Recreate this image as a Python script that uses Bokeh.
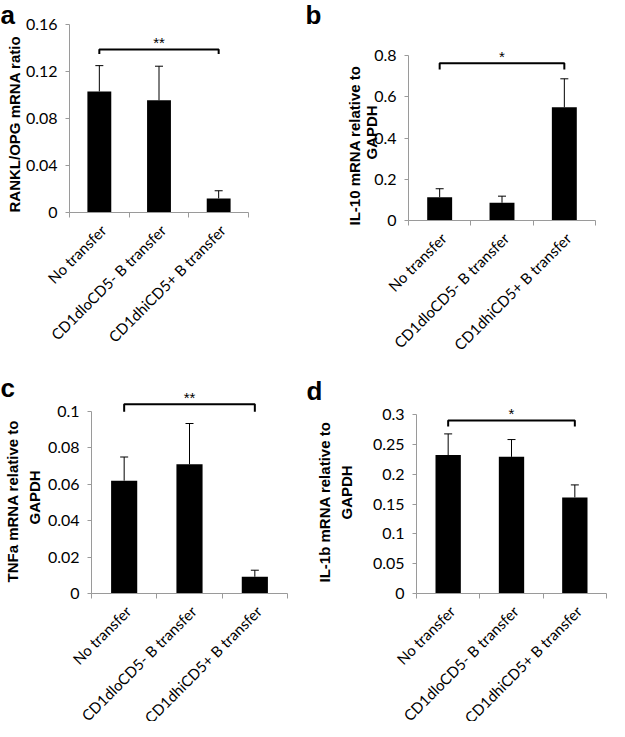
from math import pi
from bokeh.plotting import figure
from bokeh.layouts import column, row
from bokeh.models import (Range1d, FixedTicker, Whisker, TeeHead,
                          ColumnDataSource, LinearAxis)
from bokeh.core.properties import value
from bokeh.embed import file_html
from bokeh.resources import INLINE

# ---------------- data ----------------
categories = ["No transfer", "CD1dloCD5- B transfer", "CD1dhiCD5+ B transfer"]

rankl_opg = [0.103, 0.0955, 0.012]
rankl_opg_err = [0.022, 0.029, 0.0065]

il10 = [0.113, 0.086, 0.549]
il10_err = [0.041, 0.032, 0.138]

tnfa = [0.062, 0.071, 0.0092]
tnfa_err = [0.013, 0.0224, 0.0036]

il1b = [0.232, 0.229, 0.161]
il1b_err = [0.0355, 0.029, 0.021]

ticks_a = [0, 0.04, 0.08, 0.12, 0.16]
tick_labels_a = ["0", "0.04", "0.08", "0.12", "0.16"]
ticks_b = [0, 0.2, 0.4, 0.6, 0.8]
tick_labels_b = ["0", "0.2", "0.4", "0.6", "0.8"]
ticks_c = [0, 0.02, 0.04, 0.06, 0.08, 0.1]
tick_labels_c = ["0", "0.02", "0.04", "0.06", "0.08", "0.1"]
ticks_d = [0, 0.05, 0.1, 0.15, 0.2, 0.25, 0.3]
tick_labels_d = ["0", "0.05", "0.1", "0.15", "0.2", "0.25", "0.3"]

ylabel_a = ["RANKL/OPG mRNA ratio"]
ylabel_b = ["IL-10 mRNA relative to", "GAPDH"]
ylabel_c = ["TNFa mRNA relative to", "GAPDH"]
ylabel_d = ["IL-1b mRNA relative to", "GAPDH"]

# significance brackets: (bracket level, drop level, label)
sig_a = (0.1388, 0.135, "**")
sig_b = (0.763, 0.732, "*")
sig_c = (0.104, 0.0998, "**")
sig_d = (0.290, 0.280, "*")

FONT = "Lato"
BOLD_FONT = "Liberation Sans"
AXIS_GREY = "#9a9a9a"


def make_panel(vals, errs, ticks, tick_labels, ylabel_lines, letter, sig,
               W, H, ax_left, ax_right, y_zero, y_top, letter_px, title_px):
    """All *_px / ax_* / y_* numbers are canvas pixel layout positions."""
    ymax = ticks[-1]
    ux = (ax_right - ax_left) / 3.0          # px per category
    uy = (y_zero - y_top) / ymax             # px per data unit

    def dx(px):
        return (px - ax_left) / ux

    def dy(py):
        return (y_zero - py) / uy

    p = figure(width=W, height=H, output_backend="svg",
               toolbar_location=None, tools="",
               x_range=Range1d(dx(0), dx(W)), y_range=Range1d(dy(H), dy(0)),
               x_axis_location=None, y_axis_location=None,
               min_border=0)
    p.outline_line_color = None
    p.xgrid.grid_line_color = None
    p.ygrid.grid_line_color = None
    p.background_fill_color = "white"
    p.border_fill_color = "white"

    xs = [0.5 + i for i in range(len(categories))]
    src = ColumnDataSource(dict(x=xs, top=vals,
                                upper=[v + e for v, e in zip(vals, errs)]))
    p.vbar(x="x", top="top", bottom=0, width=0.4, source=src,
           fill_color="black", line_color=None)
    p.add_layout(Whisker(base="x", lower="top", upper="upper", source=src,
                         dimension="height", line_color="black", line_width=1,
                         upper_head=TeeHead(size=8, line_color="black",
                                            line_width=1),
                         lower_head=None))

    # significance bracket
    lvl, drop, lab = sig
    p.line([xs[0], xs[0], xs[2], xs[2]], [drop, lvl, lvl, drop],
           line_color="black", line_width=2)
    p.text([(xs[0] + xs[2]) / 2], [lvl], text=[lab], text_align="center",
           text_baseline="bottom", text_font=value(BOLD_FONT),
           text_font_size="15px", text_color="black", y_offset=2)

    # x axis (drawn at y = 0), boundary ticks only
    xa = LinearAxis(fixed_location=0, bounds=(0, 3))
    xa.ticker = FixedTicker(ticks=[], minor_ticks=[0, 1, 2, 3])
    xa.major_tick_out = 0
    xa.major_tick_in = 0
    xa.minor_tick_out = 5
    xa.minor_tick_in = 0
    xa.minor_tick_line_color = AXIS_GREY
    xa.axis_line_color = AXIS_GREY
    p.add_layout(xa, "below")

    # category labels, rotated 45 degrees
    p.text(xs, [0] * len(xs), text=categories, angle=pi / 4,
           text_align="right", text_baseline="middle",
           x_offset=4, y_offset=15, text_font=value(FONT),
           text_font_size="15px", text_color="black")

    # y axis (drawn at x = 0)
    ya = LinearAxis(fixed_location=0, bounds=(0, ymax))
    ya.ticker = FixedTicker(ticks=ticks, minor_ticks=[])
    ya.major_label_overrides = {t: l for t, l in zip(ticks, tick_labels)}
    ya.axis_line_color = AXIS_GREY
    ya.major_tick_line_color = AXIS_GREY
    ya.major_tick_out = 4
    ya.major_tick_in = 0
    ya.minor_tick_line_color = None
    ya.major_label_text_font = FONT
    ya.major_label_text_font_size = "16px"
    ya.major_label_text_color = "black"
    ya.major_label_standoff = 8
    p.add_layout(ya, "left")

    # y axis title (one or two lines), rotated; anchored at each line's start
    tx = [dx(bx) for bx, sy in title_px]
    ty = [dy(sy) for bx, sy in title_px]
    p.text(tx, ty, text=ylabel_lines, angle=pi / 2,
           text_align="left", text_baseline="alphabetic",
           text_font=value(BOLD_FONT), text_font_size="15px",
           text_font_style="bold", text_color="black")

    # panel letter
    lx, ly = letter_px
    p.text([dx(lx)], [dy(ly)], text=[letter],
           text_align="left", text_baseline="alphabetic",
           text_font=value(BOLD_FONT), text_font_size="26px",
           text_font_style="bold", text_color="black")
    return p


pa = make_panel(rankl_opg, rankl_opg_err, ticks_a, tick_labels_a,
                ylabel_a, "a", sig_a,
                304, 356, 69, 248, 212, 24, (0, 14), [(14, 212)])
pb = make_panel(il10, il10_err, ticks_b, tick_labels_b,
                ylabel_b, "b", sig_b,
                305, 356, 104, 291, 220, 55, (1, 14), [(50, 225), (67, 159)])
pc = make_panel(tnfa, tnfa_err, ticks_c, tick_labels_c,
                ylabel_c, "c", sig_c,
                304, 365, 91, 287, 237, 55, (0, 31), [(12, 226), (34, 168)])
pd = make_panel(il1b, il1b_err, ticks_d, tick_labels_d,
                ylabel_d, "d", sig_d,
                305, 365, 112, 302, 237, 58, (2, 34), [(20, 226), (42, 163)])

layout = column(row(pa, pb), row(pc, pd))
open("out.html", "w").write(file_html(layout, INLINE))
